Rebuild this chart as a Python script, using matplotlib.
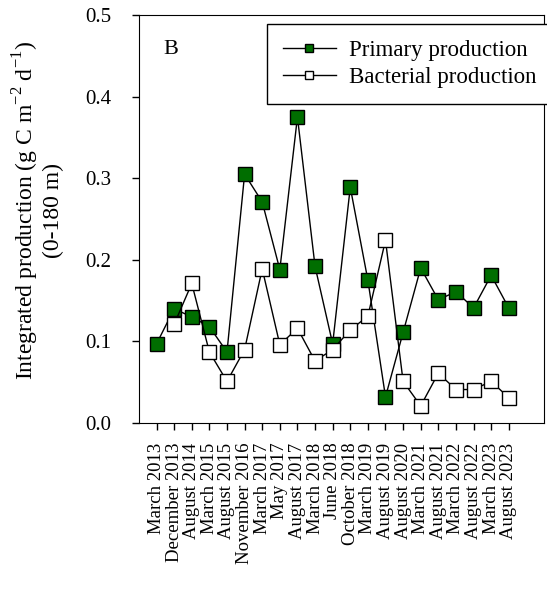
import numpy as np
import matplotlib
matplotlib.use("Agg")
from matplotlib import pyplot as plt

dates = ["March 2013", "December 2013", "August 2014", "March 2015", "August 2015",
         "November 2016", "March 2017", "May 2017", "August 2017", "March 2018",
         "June 2018", "October 2018", "March 2019", "August 2019", "August 2020",
         "March 2021", "August 2021", "March 2022", "August 2022", "March 2023",
         "August 2023"]
primary = [0.097, 0.140, 0.130, 0.118, 0.087, 0.305, 0.271, 0.188, 0.375, 0.192,
           0.097, 0.289, 0.175, 0.032, 0.111, 0.190, 0.151, 0.161, 0.141, 0.181,
           0.141]
bacterial = [np.nan, 0.121, 0.171, 0.087, 0.051, 0.090, 0.189, 0.096, 0.116, 0.076,
             0.090, 0.114, 0.131, 0.224, 0.051, 0.021, 0.061, 0.041, 0.041, 0.051,
             0.031]

plt.rcParams["font.family"] = ["Liberation Serif", "DejaVu Serif"]
plt.rcParams["mathtext.fontset"] = "custom"
plt.rcParams["mathtext.rm"] = "Liberation Serif"

fig = plt.figure(figsize=(5.47, 5.92), dpi=100)
ax = fig.add_axes([0.254, 0.2855, 0.7405, 0.689])

x = np.arange(len(dates))
ax.plot(x, primary, "-", color="black", lw=1, marker="s", ms=9.5,
        mfc="#006e00", mec="black", mew=1, label="Primary production")
ax.plot(x, bacterial, "-", color="black", lw=1, marker="s", ms=9.5,
        mfc="white", mec="black", mew=1, label="Bacterial production")

ax.set_xlim(-1, 22)
ax.set_ylim(0, 0.5)
ax.set_yticks([0.0, 0.1, 0.2, 0.3, 0.4, 0.5])
ax.set_yticklabels(["0.0", "0.1", "0.2", "0.3", "0.4", "0.5"], fontsize=15)
ax.set_xticks(x)
ax.set_xticklabels(dates, rotation=90, fontsize=13.5)
ax.tick_params(direction="out", length=5, width=1)
ax.tick_params(axis="y", pad=15)
ax.tick_params(axis="x", pad=9)

ax.set_ylabel("Integrated production (g C m$^{-2}$ d$^{-1}$)\n(0-180 m)",
              fontsize=17, linespacing=1.1)
ax.yaxis.set_label_coords(-0.185, 0.52)
ax.text(0.06, 0.905, "B", transform=ax.transAxes, fontsize=16)

leg = ax.legend(loc="upper left", bbox_to_anchor=(0.316, 0.978), borderaxespad=0,
                fontsize=16.5, fancybox=False, edgecolor="black", framealpha=1,
                markerscale=0.65, handlelength=2.3, handletextpad=0.6,
                borderpad=0.7, labelspacing=0.25)
leg.get_frame().set_linewidth(1)

fig.savefig("out.png", dpi=100)
